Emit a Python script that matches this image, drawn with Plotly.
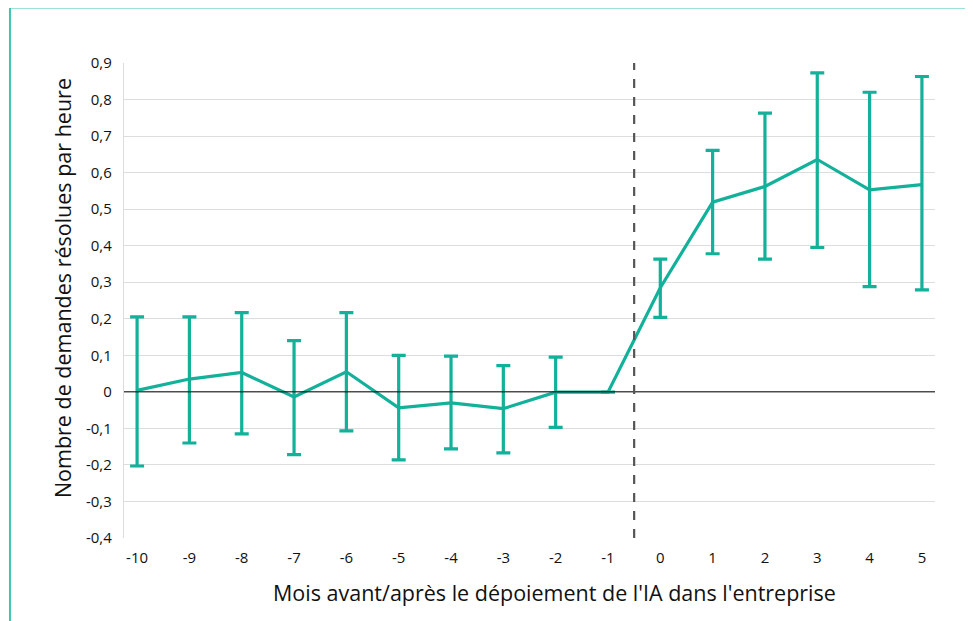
import plotly.graph_objects as go

months = [-10, -9, -8, -7, -6, -5, -4, -3, -2, -1, 0, 1, 2, 3, 4, 5]
values = [0.004, 0.035, 0.053, -0.014, 0.055, -0.044, -0.030, -0.046, -0.001, -0.001,
          0.285, 0.519, 0.562, 0.636, 0.553, 0.567]
upper = [0.205, 0.205, 0.217, 0.140, 0.217, 0.100, 0.098, 0.072, 0.095, None,
         0.363, 0.661, 0.763, 0.873, 0.820, 0.863]
lower = [-0.203, -0.140, -0.115, -0.172, -0.107, -0.186, -0.156, -0.167, -0.097, None,
         0.204, 0.378, 0.363, 0.395, 0.288, 0.279]
y_ticks = [-0.4, -0.3, -0.2, -0.1, 0, 0.1, 0.2, 0.3, 0.4, 0.5, 0.6, 0.7, 0.8, 0.9]
y_labels = ["-0,4", "-0,3", "-0,2", "-0,1", "0", "0,1", "0,2", "0,3", "0,4", "0,5",
            "0,6", "0,7", "0,8", "0,9"]
x_title = "Mois avant/après le dépoiement de l'IA dans l'entreprise"
y_title = "Nombre de demandes résolues par heure"

err_plus = [(u - v) if u is not None else 0 for u, v in zip(upper, values)]
err_minus = [(v - l) if l is not None else 0 for l, v in zip(lower, values)]

TEAL = "#13B09A"
FONT = "Open Sans"

fig = go.Figure()
fig.add_trace(go.Scatter(
    x=months, y=values, mode="lines",
    line=dict(color=TEAL, width=3.2),
    error_y=dict(type="data", symmetric=False, array=err_plus, arrayminus=err_minus,
                 color=TEAL, thickness=3.2, width=7, visible=True),
    showlegend=False, hoverinfo="skip",
))

# zero line
fig.add_shape(type="line", xref="paper", yref="y", x0=0, x1=1, y0=0, y1=0,
              line=dict(color="#000000", width=1), layer="above")
# vertical dashed line
fig.add_shape(type="line", xref="x", yref="y", x0=-0.5, x1=-0.5, y0=-0.4, y1=0.9,
              line=dict(color="#555555", width=2.2, dash="dash"), layer="above")
# outer frame (left + top teal border)
fig.add_shape(type="line", xref="paper", yref="paper", x0=-0.1406, x1=-0.1406,
              y0=1.1168, y1=-0.2, line=dict(color="#3CC6B1", width=2))
fig.add_shape(type="line", xref="paper", yref="paper", x0=-0.1406, x1=1.1,
              y0=1.1168, y1=1.1168, line=dict(color="#3CC6B1", width=2))

fig.add_annotation(text=y_title, xref="paper", yref="paper", x=-0.0765, y=0.526,
                   xanchor="center", yanchor="middle",
                   textangle=-90, showarrow=False,
                   font=dict(family=FONT, size=21.5, color="#111111"))
fig.add_annotation(text=x_title, xref="paper", yref="paper", x=0.531, y=-0.1137,
                   xanchor="center", yanchor="middle",
                   showarrow=False, font=dict(family=FONT, size=21.5, color="#111111"))

# page body has an 8px margin: shift the figure so the plot area lands at (124, 63)
fig.update_layout(
    width=965, height=613,
    margin=dict(l=116, r=38, t=55, b=83),
    paper_bgcolor="white", plot_bgcolor="white",
    font=dict(family=FONT, size=15, color="#111111"),
    xaxis=dict(range=[-10.25, 5.25], tickvals=months, ticktext=[str(m) for m in months],
               showgrid=False, zeroline=False, showline=False,
               ticks="outside", ticklen=6, tickcolor="rgba(0,0,0,0)",
               tickfont=dict(family=FONT, size=15)),
    yaxis=dict(range=[-0.4, 0.9], tickvals=y_ticks, ticktext=y_labels,
               showgrid=True, gridcolor="#DDDDDD", gridwidth=1.3,
               zeroline=False, showline=True, linecolor="#DDDDDD", linewidth=1.3,
               ticks="outside", ticklen=8, tickcolor="rgba(0,0,0,0)",
               tickfont=dict(family=FONT, size=15)),
)

fig.write_html("out.html")
